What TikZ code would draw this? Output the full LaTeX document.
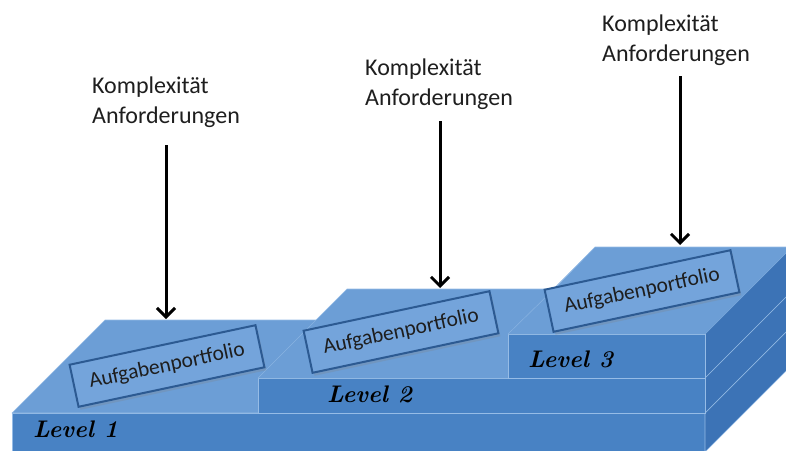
\documentclass[tikz,border=0pt]{standalone}
\usepackage{fontspec}
\newfontfamily\carl{Carlito}
\usetikzlibrary{arrows.meta,shadows}
\definecolor{topc}{RGB}{108,158,214}
\definecolor{frontc}{RGB}{72,130,196}
\definecolor{sidec}{RGB}{60,115,182}
\definecolor{edgec}{RGB}{150,188,230}
\definecolor{boxfill}{RGB}{116,164,219}
\definecolor{boxline}{RGB}{44,90,146}
\definecolor{txt}{RGB}{30,30,30}
\tikzset{
  topface/.style={fill=topc,draw=edgec,line width=0.6pt,line join=round},
  frontface/.style={fill=frontc,draw=edgec,line width=0.6pt},
  sideface/.style={fill=sidec,draw=edgec,line width=0.6pt,line join=round},
  portbox/.style={draw=boxline,line width=2pt,fill=boxfill,rotate=12,
    minimum width=190pt,minimum height=43pt,inner sep=0pt,
    font=\carl\fontsize{21.5}{25}\selectfont,text=txt,
    drop shadow={shadow xshift=2pt,shadow yshift=-3pt,opacity=0.25}},
  lvl/.style={anchor=base west,inner sep=0pt,font=\bfseries\itshape\fontsize{24}{30}\selectfont,text=black},
  req/.style={anchor=base west,inner sep=0pt,align=left,
    font=\carl\fontsize{24}{30}\selectfont,text=txt},
  arr/.style={line width=3pt,-{Straight Barb[length=9pt,width=18pt]}}
}
\begin{document}
\begin{tikzpicture}[x=1pt,y=-1pt]
\useasboundingbox (0,0) rectangle (786,450);
\clip (0,0) rectangle (786,450);
% Level 1 slab
\draw[frontface] (12,413) rectangle (705,460);
\draw[sideface] (705,413) -- (798,320) -- (798,359) -- (705,452) -- cycle;
\draw[topface] (12,413) -- (105,320) -- (798,320) -- (705,413) -- cycle;
% Level 2 slab
\draw[sideface] (705,378) -- (794,289) -- (794,324) -- (705,413) -- cycle;
\draw[frontface] (258,378) rectangle (705,413);
\fill[topc] (258,378) -- (347,289) -- (794,289) -- (705,378) -- cycle;
\draw[edgec,line width=0.6pt] (316,320) -- (347,289) -- (794,289);
\draw[edgec!70!topc,line width=0.5pt] (258,378) -- (316,320);
% Level 3 slab
\draw[sideface] (705,334) -- (792,247) -- (792,291) -- (705,378) -- cycle;
\draw[frontface] (508,334) rectangle (705,378);
\fill[topc] (508,334) -- (595,247) -- (792,247) -- (705,334) -- cycle;
\draw[edgec,line width=0.6pt] (554,289) -- (595,247) -- (792,247);
\draw[edgec!70!topc,line width=0.5pt] (508,334) -- (554,289);
% level labels
\node[lvl] (l1) at (33,437) {Level 1};
\node[lvl] (l2) at (327,402) {Level 2};
\node[lvl] (l3) at (528,367) {Level 3};
% portfolio boxes
\node[portbox] (p1) at (167,366) {Aufgabenportfolio};
\node[portbox] (p2) at (401,332) {Aufgabenportfolio};
\node[portbox] (p3) at (642,291) {Aufgabenportfolio};
% requirement labels (base = last line)
\node[req] (r1) at (92,123) {Komplexität\\Anforderungen};
\node[req] (r2) at (365,105) {Komplexität\\Anforderungen};
\node[req] (r3) at (602,61) {Komplexität\\Anforderungen};
% arrows
\coordinate (s1) at (166,145); \coordinate (e1) at (166,319);
\coordinate (s2) at (440,121); \coordinate (e2) at (440,288);
\coordinate (s3) at (680,76);  \coordinate (e3) at (680,245);
\draw[arr] (s1) -- (e1);
\draw[arr] (s2) -- (e2);
\draw[arr] (s3) -- (e3);
\end{tikzpicture}
\end{document}
